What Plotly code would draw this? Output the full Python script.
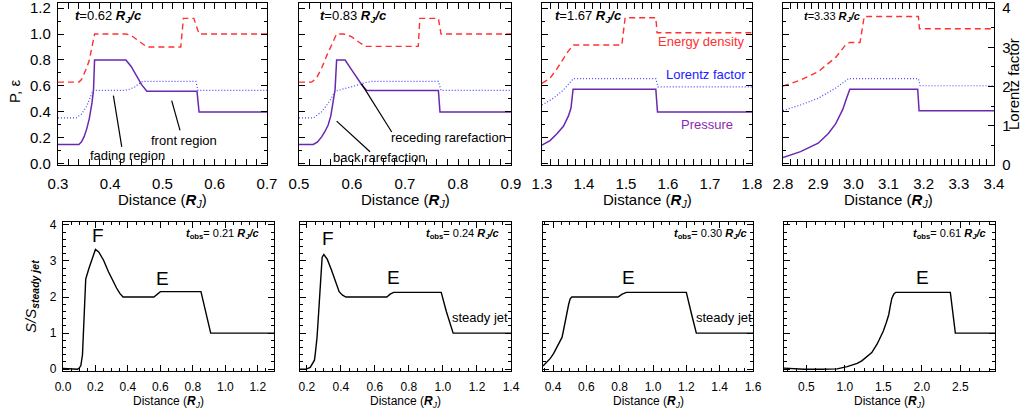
import plotly.graph_objects as go

# ---------------- data ----------------
# top row: pressure (P), energy density (eps) and Lorentz factor at 4 times
times_top = ["0.62", "0.83", "1.67", "3.33"]

pr1_x = [0.3, 0.34, 0.345, 0.35, 0.355, 0.36, 0.365, 0.368, 0.37, 0.43, 0.44, 0.45, 0.46, 0.47, 0.566, 0.57, 0.7]
pr1 = [0.15, 0.15, 0.17, 0.21, 0.27, 0.35, 0.47, 0.57, 0.80, 0.80, 0.75, 0.68, 0.61, 0.56, 0.56, 0.40, 0.40]
ed1_x = [0.3, 0.34, 0.345, 0.35, 0.355, 0.36, 0.365, 0.37, 0.43, 0.44, 0.45, 0.46, 0.47, 0.535, 0.54, 0.56, 0.57, 0.7]
ed1 = [0.63, 0.63, 0.65, 0.69, 0.74, 0.80, 0.90, 1.0, 1.0, 0.99, 0.96, 0.93, 0.90, 0.90, 1.12, 1.12, 1.0, 1.0]
lf1_x = [0.3, 0.335, 0.345, 0.355, 0.367, 0.427, 0.437, 0.447, 0.455, 0.462, 0.564, 0.568, 0.7]
lf1 = [1.2, 1.2, 1.3, 1.5, 1.9, 1.9, 1.93, 1.99, 2.07, 2.13, 2.13, 1.9, 1.9]

pr2_x = [0.5, 0.527, 0.535, 0.543, 0.549, 0.555, 0.560, 0.565, 0.568, 0.571, 0.587, 0.60, 0.61, 0.62, 0.628, 0.763, 0.766, 0.9]
pr2 = [0.15, 0.15, 0.17, 0.21, 0.25, 0.30, 0.37, 0.48, 0.57, 0.80, 0.80, 0.72, 0.66, 0.60, 0.565, 0.565, 0.40, 0.40]
ed2_x = [0.5, 0.524, 0.533, 0.543, 0.552, 0.562, 0.571, 0.584, 0.599, 0.612, 0.625, 0.725, 0.728, 0.763, 0.768, 0.9]
ed2 = [0.63, 0.63, 0.66, 0.74, 0.83, 0.92, 1.0, 1.0, 0.98, 0.94, 0.905, 0.905, 1.12, 1.12, 1.0, 1.0]
lf2_x = [0.5, 0.527, 0.543, 0.558, 0.568, 0.58, 0.606, 0.625, 0.637, 0.763, 0.768, 0.9]
lf2 = [1.2, 1.2, 1.36, 1.63, 1.88, 1.92, 2.02, 2.1, 2.13, 2.13, 1.9, 1.9]

pr3_x = [1.3, 1.319, 1.335, 1.351, 1.363, 1.369, 1.374, 1.571, 1.575, 1.8]
pr3 = [0.145, 0.18, 0.23, 0.29, 0.37, 0.43, 0.575, 0.575, 0.40, 0.40]
ed3_x = [1.3, 1.319, 1.335, 1.351, 1.363, 1.375, 1.49, 1.498, 1.571, 1.574, 1.8]
ed3 = [0.62, 0.66, 0.73, 0.81, 0.87, 0.915, 0.915, 1.125, 1.125, 1.01, 1.01]
lf3_x = [1.3, 1.327, 1.351, 1.367, 1.375, 1.571, 1.576, 1.8]
lf3 = [1.53, 1.70, 1.91, 2.12, 2.2, 2.2, 1.99, 1.99]

pr4_x = [2.8, 2.85, 2.9, 2.929, 2.95, 2.97, 2.98, 2.99, 3.183, 3.187, 3.4]
pr4 = [0.05, 0.095, 0.16, 0.235, 0.31, 0.42, 0.50, 0.575, 0.575, 0.41, 0.41]
ed4_x = [2.8, 2.85, 2.9, 2.95, 2.979, 2.99, 3.019, 3.031, 3.185, 3.188, 3.4]
ed4 = [0.60, 0.645, 0.71, 0.82, 0.92, 0.935, 0.935, 1.135, 1.135, 1.04, 1.04]
lf4_x = [2.8, 2.85, 2.9, 2.95, 2.986, 3.185, 3.19, 3.4]
lf4 = [1.39, 1.53, 1.70, 1.96, 2.2, 2.2, 2.02, 2.02]

# bottom row: S / S_steady jet at 4 observer times
times_bot = ["0.21", "0.24", "0.30", "0.61"]

s5_x = [0.0, 0.05, 0.09, 0.10, 0.11, 0.12, 0.125, 0.13, 0.135, 0.14, 0.16, 0.18, 0.20, 0.22, 0.25, 0.28,
        0.30, 0.33, 0.35, 0.37, 0.56, 0.58, 0.60, 0.85, 0.88, 0.91, 1.3]
s5 = [0.02, 0.0, 0.0, 0.03, 0.1, 0.4, 1.0, 1.8, 2.3, 2.5, 2.8, 3.05, 3.32, 3.25, 3.02, 2.7,
      2.5, 2.25, 2.1, 2.0, 2.0, 2.08, 2.15, 2.15, 1.6, 1.0, 1.0]
s6_x = [0.16, 0.2, 0.22, 0.235, 0.245, 0.25, 0.26, 0.27, 0.28, 0.29, 0.30, 0.32, 0.345, 0.37, 0.39, 0.41,
        0.43, 0.67, 0.69, 0.71, 0.99, 1.02, 1.06, 1.4]
s6 = [0.0, 0.01, 0.05, 0.15, 0.25, 0.43, 0.88, 1.6, 2.5, 3.1, 3.18, 3.05, 2.75, 2.4, 2.15, 2.05,
      2.0, 2.0, 2.08, 2.13, 2.13, 1.6, 1.0, 1.0]
s7_x = [0.34, 0.36, 0.384, 0.404, 0.424, 0.44, 0.454, 0.464, 0.474, 0.484, 0.494, 0.503, 0.513, 0.79,
        0.815, 0.84, 1.2, 1.23, 1.26, 1.6]
s7 = [0.09, 0.18, 0.30, 0.44, 0.61, 0.75, 0.88, 1.1, 1.35, 1.6, 1.8, 1.95, 2.0, 2.0,
      2.08, 2.13, 2.13, 1.55, 1.0, 1.0]
s8_x = [0.21, 0.3, 0.47, 0.7, 0.9, 1.03, 1.1, 1.16, 1.22, 1.29, 1.35, 1.42, 1.46, 1.5, 1.54, 1.57, 1.59,
        1.61, 1.635, 1.66, 2.37, 2.40, 2.435, 2.95]
s8 = [0.03, 0.02, 0.0, 0.0, 0.01, 0.07, 0.11, 0.16, 0.23, 0.34, 0.46, 0.70, 0.86, 1.06, 1.3, 1.51, 1.75,
      1.96, 2.08, 2.13, 2.13, 1.55, 1.0, 1.0]

top_series = [(pr1_x, pr1, ed1_x, ed1, lf1_x, lf1), (pr2_x, pr2, ed2_x, ed2, lf2_x, lf2),
              (pr3_x, pr3, ed3_x, ed3, lf3_x, lf3), (pr4_x, pr4, ed4_x, ed4, lf4_x, lf4)]
bot_series = [(s5_x, s5), (s6_x, s6), (s7_x, s7), (s8_x, s8)]

# ---------------- layout geometry ----------------
W, H = 1024, 416
FONT = "Liberation Sans, Arial, sans-serif"
RED, BLUE, PURPLE = "#ff3030", "#4848ff", "#6a28b0"

top_dom = [[58, 267], [299, 511], [542, 752], [783, 994]]
bot_dom = [[63, 274], [300, 511], [543, 753], [784, 995]]
top_y, bot_y = [3, 165], [222, 371]
top_xr = [[0.3, 0.7], [0.5, 0.9], [1.3, 1.8], [2.8, 3.4]]
bot_xr = [[0.0, 1.3], [0.16, 1.4], [0.34, 1.6], [0.21, 2.95]]
bot_dt = [0.2, 0.2, 0.2, 0.5]
P_RANGE = [-0.008, 1.2385]
L_RANGE = [0, 4.128]
S_RANGE = [-0.05, 4.08]


def xd(d):
    return [d[0] / W, d[1] / W]


def yd(d):
    return [1 - d[1] / H, 1 - d[0] / H]


def axis(dom, rng, dtick, mdt, labels, fs, anchor, fmt, mirror="allticks", standoff=4):
    return dict(domain=dom, range=rng, dtick=dtick, tick0=0, ticks="inside", ticklen=6,
                tickwidth=1, tickcolor="black", showline=True, linecolor="black", linewidth=1.3,
                mirror=mirror, showgrid=False, zeroline=False, showticklabels=labels,
                tickfont=dict(family=FONT, size=fs, color="black"), tickformat=fmt,
                ticklabelstandoff=standoff, automargin=False, ticklabeloverflow="allow",
                minor=dict(dtick=mdt, ticks="inside", ticklen=3, tickcolor="black", showgrid=False),
                anchor=anchor)


fig = go.Figure()
layout = {}

for i in range(4):
    n = i + 1
    px_, p, ex, e, lx, l = top_series[i]
    xa, ya, la = f"x{n}", f"y{n}", f"y{n + 8}"
    fig.add_trace(go.Scatter(x=ex, y=e, xaxis=xa, yaxis=ya, mode="lines",
                             line=dict(color=RED, width=1.4, dash="6px,4px"), showlegend=False))
    fig.add_trace(go.Scatter(x=lx, y=l, xaxis=xa, yaxis=la, mode="lines",
                             line=dict(color=BLUE, width=1.2, dash="1px,2px"), showlegend=False))
    fig.add_trace(go.Scatter(x=px_, y=p, xaxis=xa, yaxis=ya, mode="lines",
                             line=dict(color=PURPLE, width=1.5), showlegend=False))
    layout[f"xaxis{n}"] = axis(xd(top_dom[i]), top_xr[i], 0.1, 0.02, True, 15, ya, ".1f", standoff=5)
    layout[f"yaxis{n}"] = axis(yd(top_y), P_RANGE, 0.2, 0.1, i == 0, 15, xa, ".1f",
                               mirror="allticks" if i < 3 else False, standoff=3)
    if i < 3:
        layout[f"yaxis{n + 8}"] = dict(overlaying=ya, anchor=xa, range=L_RANGE, visible=False,
                                       domain=yd(top_y))
    else:
        la_ax = axis(yd(top_y), L_RANGE, 1, 0.5, True, 15, xa, "d", mirror=False, standoff=4)
        la_ax.update(overlaying=ya, side="right")
        layout[f"yaxis{n + 8}"] = la_ax

for i in range(4):
    n = i + 5
    sx, s = bot_series[i]
    xa, ya = f"x{n}", f"y{n}"
    fig.add_trace(go.Scatter(x=sx, y=s, xaxis=xa, yaxis=ya, mode="lines",
                             line=dict(color="black", width=1.4), showlegend=False))
    layout[f"xaxis{n}"] = axis(xd(bot_dom[i]), bot_xr[i], bot_dt[i], bot_dt[i] / 4, True, 12, ya, ".1f",
                               standoff=4)
    layout[f"yaxis{n}"] = axis(yd(bot_y), S_RANGE, 1, 0.2, i == 0, 12, xa, "d", standoff=3)

ann = []


def txt(x, y, t, size, color="black", xanchor="center", angle=0, xref="paper", yref="paper"):
    if xref == "paper":
        x = x / W
    if yref == "paper":
        y = 1 - y / H
    ann.append(dict(x=x, y=y, xref=xref, yref=yref, text=t, showarrow=False, xanchor=xanchor,
                    yanchor="middle", textangle=angle,
                    font=dict(family=FONT, size=size, color=color)))


# titles / axis labels
for i in range(4):
    c = (top_dom[i][0] + top_dom[i][1]) / 2
    txt(c, 200, "Distance (<i><b>R</b><sub>J</sub></i>)", 15)
    c = (bot_dom[i][0] + bot_dom[i][1]) / 2
    txt(c, 402, "Distance (<i><b>R</b><sub>J</sub></i>)", 12)
txt(14, 92, "P, ε", 15, angle=-90)
txt(1014, 84, "Lorentz factor", 15, angle=-90)
txt(31, 297, "<i>S/S</i><sub><b><i>steady jet</i></b></sub>", 15, angle=-90)

# time labels
t_left = [73, 318, 553, 802]
t_size = [13, 13, 13, 11]
for i in range(4):
    txt(t_left[i], 17, f"<b><i>t</i></b>={times_top[i]} <b><i>R<sub>J</sub>/c</i></b>", t_size[i],
        xanchor="left")
t_c = [222, 462, 710, 949]
for i in range(4):
    txt(t_c[i], 234, f"<b><i>t</i><sub>obs</sub></b>= {times_bot[i]} <b><i>R<sub>J</sub>/c</i></b>", 11)

# region labels
txt(0.433, 0.068, "fading region", 13, xref="x1", yref="y1")
txt(0.541, 0.183, "front region", 13, xref="x1", yref="y1")
txt(0.782, 0.203, "receding rarefaction", 13, xref="x2", yref="y2")
txt(0.651, 0.050, "back rarefaction", 13, xref="x2", yref="y2")
txt(701, 42, "Energy density", 13, color=RED)
txt(706, 74, "Lorentz factor", 13, color="#2020ff")
txt(707, 124, "Pressure", 13, color="#8a2ab0")

txt(98, 235, "F", 19)
txt(162, 278, "E", 19)
txt(328, 238, "F", 19)
txt(393, 277, "E", 19)
txt(628, 277, "E", 19)
txt(922, 277, "E", 19)
txt(480, 317, "steady jet", 13)
txt(724, 317, "steady jet", 13)

shapes = []
for (x0, y0, x1, y1, xr, yr) in [(0.406, 0.526, 0.422, 0.132, "x1", "y1"),
                                 (0.5176, 0.488, 0.5335, 0.259, "x1", "y1"),
                                 (0.618, 0.616, 0.675, 0.246, "x2", "y2"),
                                 (0.571, 0.330, 0.634, 0.094, "x2", "y2")]:
    shapes.append(dict(type="line", x0=x0, y0=y0, x1=x1, y1=y1, xref=xr, yref=yr,
                       line=dict(color="black", width=1.2)))

fig.update_layout(width=W, height=H, margin=dict(l=0, r=0, t=0, b=0, pad=0), autosize=False,
                  paper_bgcolor="white", plot_bgcolor="white", showlegend=False,
                  annotations=ann, shapes=shapes, **layout)

fig.write_html("out.html", config={"displayModeBar": False},
               post_script="document.body.style.margin='0';document.body.style.padding='0';"
                           "document.body.style.overflow='hidden';")
